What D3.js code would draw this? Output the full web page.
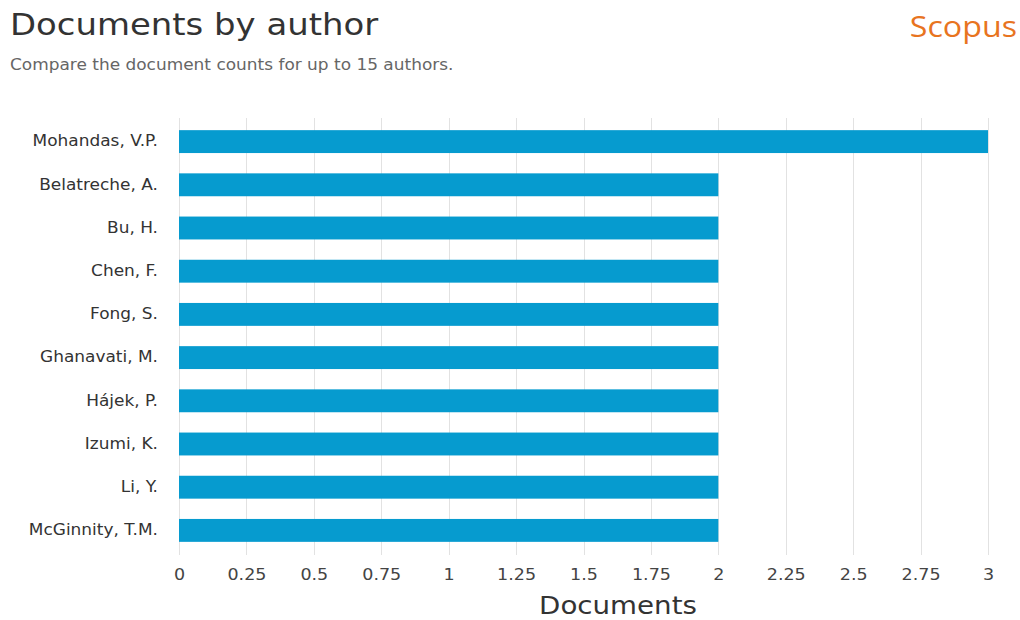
<!DOCTYPE html>
<html>
<head>
<meta charset="utf-8">
<script src="https://cdn.jsdelivr.net/npm/d3@7/dist/d3.min.js"></script>
<style>
  html, body { margin: 0; padding: 0; background: #fff; }
  svg { display: block; }
  text { font-family: "DejaVu Sans", sans-serif; }
</style>
</head>
<body>
<svg id="chart" width="1020" height="620"></svg>
<script>
// Authors and their document counts
const authors = [
  "Mohandas, V.P.",
  "Belatreche, A.",
  "Bu, H.",
  "Chen, F.",
  "Fong, S.",
  "Ghanavati, M.",
  "Hájek, P.",
  "Izumi, K.",
  "Li, Y.",
  "McGinnity, T.M."
];
const documents = [3, 2, 2, 2, 2, 2, 2, 2, 2, 2];
const xTicks = [0, 0.25, 0.5, 0.75, 1, 1.25, 1.5, 1.75, 2, 2.25, 2.5, 2.75, 3];

const svg = d3.select("#chart");
const plot = { left: 179, right: 988, top: 120, bottom: 552 };
const gridTop = 118, gridBottom = 555;
const textStretch = 1.13; // wide lettering used throughout

const x = d3.scaleLinear().domain([0, 3]).range([plot.left, plot.right]);
const y = d3.scaleBand()
  .domain(authors)
  .range([plot.top, plot.bottom])
  .paddingInner(0.47)
  .paddingOuter(0.235);

// Heading
svg.append("text")
  .attr("x", 10).attr("y", 35)
  .attr("font-size", 30).attr("fill", "#333")
  .text("Documents by author");
svg.append("text")
  .attr("x", 10).attr("y", 70)
  .attr("font-size", 15).attr("fill", "#666")
  .text("Compare the document counts for up to 15 authors.");
svg.append("text")
  .attr("x", 1017).attr("y", 37)
  .attr("text-anchor", "end")
  .attr("font-size", 28.5).attr("fill", "#e8741f")
  .style("font-family", "'Open Sans', sans-serif")
  .text("Scopus");

// Vertical grid lines
svg.append("g")
  .selectAll("line")
  .data(xTicks)
  .join("line")
  .attr("x1", d => Math.round(x(d)) + 0.5)
  .attr("x2", d => Math.round(x(d)) + 0.5)
  .attr("y1", gridTop)
  .attr("y2", gridBottom)
  .attr("stroke", "#e2e2e2");

// x axis labels
const gx = svg.append("g")
  .attr("transform", `translate(0,${gridBottom})`)
  .call(d3.axisBottom(x).tickValues(xTicks).tickFormat(d => String(d)).tickSize(0));
gx.select(".domain").remove();
gx.selectAll(".tick text")
  .attr("y", 25).attr("dy", 0)
  .attr("font-size", 15.5).attr("fill", "#444")
  .style("font-family", "'DejaVu Sans', sans-serif");

// Author labels
const gy = svg.append("g")
  .attr("transform", `translate(${plot.left},0)`)
  .call(d3.axisLeft(y).tickSize(0).tickPadding(21));
gy.select(".domain").remove();
gy.selectAll(".tick text")
  .attr("font-size", 15).attr("fill", "#333")
  .style("font-family", "'DejaVu Sans', sans-serif");

// Bars
svg.append("g")
  .selectAll("rect")
  .data(authors.map((a, i) => ({ author: a, value: documents[i] })))
  .join("rect")
  .attr("x", x(0))
  .attr("y", d => y(d.author))
  .attr("width", d => x(d.value) - x(0))
  .attr("height", y.bandwidth())
  .attr("fill", "#069bcf");

// Axis title
svg.append("text")
  .attr("x", 618)
  .attr("y", 614)
  .attr("text-anchor", "middle")
  .attr("font-size", 24.5).attr("fill", "#333")
  .text("Documents");

// Widen every label horizontally
svg.selectAll("text").each(function () {
  const len = this.getComputedTextLength();
  d3.select(this)
    .attr("textLength", len * textStretch)
    .attr("lengthAdjust", "spacingAndGlyphs");
});
</script>
</body>
</html>
